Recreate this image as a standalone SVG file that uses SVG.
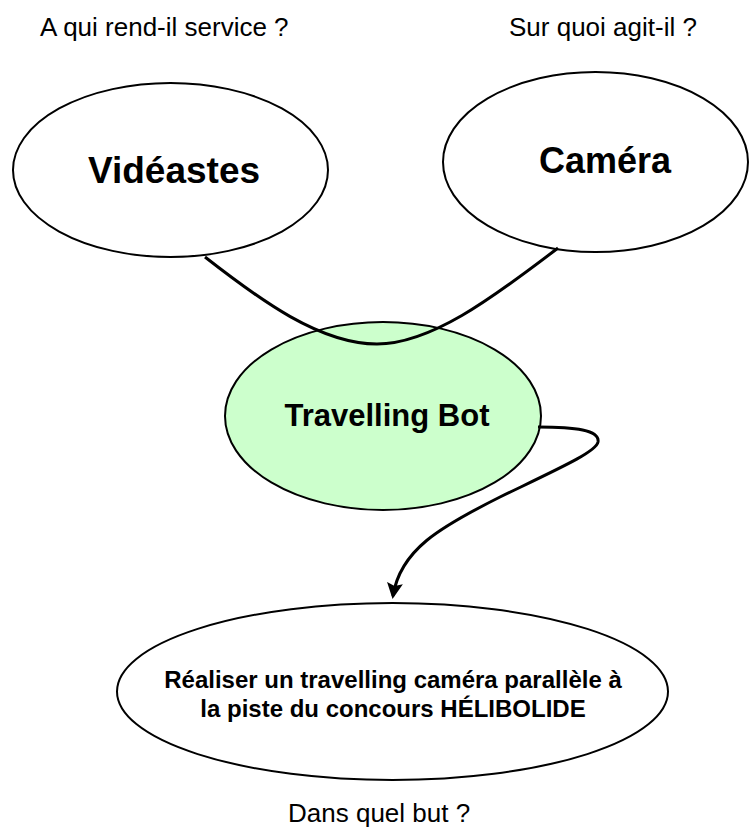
<svg xmlns="http://www.w3.org/2000/svg" width="749" height="828" viewBox="0 0 749 828">
<style>
.node{fill:#ffffff;stroke:#000;stroke-width:2}
.main{fill:#ccffcc}
.lbl{font-family:"Liberation Sans",Arial,sans-serif;fill:#000}
.big{font-weight:bold;font-size:37px;text-anchor:middle}
.q{font-size:26px}
.conn{fill:none;stroke:#000;stroke-width:3}
</style>
<defs>
<marker id="arr" markerUnits="userSpaceOnUse" markerWidth="16" markerHeight="16" viewBox="0 0 16 16" refX="13" refY="8" orient="auto">
<path d="M0,0 L16,8 L0,16 L3,8 Z" fill="#000"/>
</marker>
</defs>
<rect width="749" height="828" fill="#fff"/>
<text class="lbl q" x="40" y="36">A qui rend-il service ?</text>
<text class="lbl q" x="509" y="36">Sur quoi agit-il ?</text>
<text class="lbl q" x="288" y="822">Dans quel but ?</text>
<g id="videastes">
<ellipse class="node" cx="170.5" cy="170" rx="157.5" ry="87"/>
<text class="lbl big" x="174" y="183">Vidéastes</text>
</g>
<g id="camera">
<ellipse class="node" cx="595.5" cy="162" rx="152.5" ry="90"/>
<text class="lbl big" x="605" y="173" style="font-size:36px">Caméra</text>
</g>
<g id="travelling-bot">
<ellipse class="node main" cx="383" cy="416" rx="158" ry="94"/>
<text class="lbl big" x="387" y="426" style="font-size:31px">Travelling Bot</text>
</g>
<g id="but">
<ellipse class="node" cx="392.5" cy="691.5" rx="275.5" ry="88.5"/>
<text class="lbl big" x="393" y="688" style="font-size:24px">Réaliser un travelling caméra parallèle à</text>
<text class="lbl big" x="393" y="717" style="font-size:24px">la piste du concours HÉLIBOLIDE</text>
</g>
<g id="connectors">
<path class="conn" d="M205,257 C260,300 320,344 377,344 C430,344 490,300 558,248"/>
<path class="conn" d="M538,427 C575,427 600,430 598,442 C596,452 560,468 500,497 C440,527 400,550 393,596" marker-end="url(#arr)"/>
</g>
</svg>
